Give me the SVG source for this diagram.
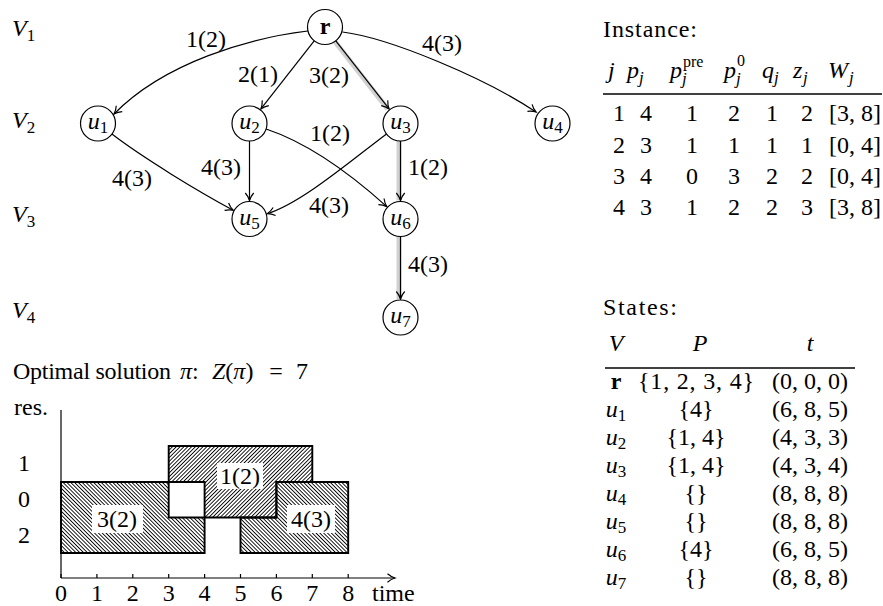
<svg xmlns="http://www.w3.org/2000/svg" width="883" height="606" viewBox="0 0 883 606" font-family="'Liberation Serif', 'Times New Roman', serif">
<style>
text{font-family:"Liberation Serif","Times New Roman",serif;font-size:24px;fill:#000}
.mi{font-style:italic}
.sub{font-size:17px}
.b{font-weight:bold}
.c{text-anchor:middle}
.edge{fill:none;stroke:#000;stroke-width:1.2;marker-end:url(#arr)}
.hl{fill:none;stroke:#d0d0d0;stroke-width:5}
.node circle{fill:#fff;stroke:#000;stroke-width:1.2}
.job{stroke:#000;stroke-width:1.9}
.lbg{fill:#fff}
.rule{stroke:#000;stroke-width:1.3}
.axis{stroke:#000;stroke-width:1.2;fill:none}
</style>
<defs>
<marker id="arr" viewBox="-9 -6 11 12" refX="0" refY="0" markerWidth="11" markerHeight="12" orient="auto" markerUnits="userSpaceOnUse">
<path d="M-7.5,-4.2 C-5,-2 -2,-0.6 0,0 C-2,0.6 -5,2 -7.5,4.2" fill="none" stroke="#000" stroke-width="1.2"/>
</marker>
<pattern id="nwl" patternUnits="userSpaceOnUse" width="2.7" height="2.7" patternTransform="rotate(-45)">
<line x1="0.45" y1="0" x2="0.45" y2="2.7" stroke="#000" stroke-width="0.9"/>
</pattern>
<pattern id="nel" patternUnits="userSpaceOnUse" width="2.7" height="2.7" patternTransform="rotate(45)">
<line x1="0.45" y1="0" x2="0.45" y2="2.7" stroke="#000" stroke-width="0.9"/>
</pattern>
</defs>
<rect width="883" height="606" fill="#fff"/>

<g id="levels">
<text x="12" y="36"><tspan class="mi">V</tspan><tspan class="sub" dy="5">1</tspan></text>
<text x="12" y="128"><tspan class="mi">V</tspan><tspan class="sub" dy="5">2</tspan></text>
<text x="12" y="222"><tspan class="mi">V</tspan><tspan class="sub" dy="5">3</tspan></text>
<text x="12" y="318"><tspan class="mi">V</tspan><tspan class="sub" dy="5">4</tspan></text>
</g>

<g id="connectors">
<path class="hl" d="M334.3,40.8 L387.6,108.9"/>
<path class="hl" d="M399,141 L399,200.5"/>
<path class="hl" d="M399,236.5 L399,299"/>
<path class="edge" d="M307.8,31 C250,38 165,62 114,114"/>
<path class="edge" d="M342.5,32 C390,38 485,78 536,112"/>
<path class="edge" d="M314.2,40.8 L260.9,108.9"/>
<path class="edge" d="M335.8,40.8 L389.1,108.9"/>
<path class="edge" d="M249.5,141 L249.5,200.5"/>
<path class="edge" d="M400.5,141 L400.5,200.5"/>
<path class="edge" d="M400.5,236.5 L400.5,299"/>
<path class="edge" d="M111.9,134.1 C143.7,158.4 198,191.2 233.2,210.2"/>
<path class="edge" d="M266.1,129 C313.5,144.8 357.1,179.8 386.8,206.6"/>
<path class="edge" d="M386.5,134 C350.5,161 300.7,203.7 267.2,213.7"/>
<text class="c" x="206" y="47">1(2)</text>
<text class="c" x="258" y="82">2(1)</text>
<text class="c" x="329" y="83">3(2)</text>
<text class="c" x="442" y="51">4(3)</text>
<text class="c" x="132" y="186">4(3)</text>
<text class="c" x="221" y="175">4(3)</text>
<text class="c" x="330" y="141">1(2)</text>
<text class="c" x="329" y="213">4(3)</text>
<text class="c" x="428" y="175">1(2)</text>
<text class="c" x="428" y="272">4(3)</text>
</g>

<g id="node-r" class="node"><circle cx="325" cy="27" r="17.5"/><text class="c b" x="325" y="34">r</text></g>
<g id="node-u1" class="node"><circle cx="98" cy="123.5" r="17.5"/><text class="c" x="98" y="129"><tspan class="mi">u</tspan><tspan class="sub" dy="4">1</tspan></text></g>
<g id="node-u2" class="node"><circle cx="249.5" cy="123.5" r="17.5"/><text class="c" x="249.5" y="129"><tspan class="mi">u</tspan><tspan class="sub" dy="4">2</tspan></text></g>
<g id="node-u3" class="node"><circle cx="400.5" cy="123.5" r="17.5"/><text class="c" x="400.5" y="129"><tspan class="mi">u</tspan><tspan class="sub" dy="4">3</tspan></text></g>
<g id="node-u4" class="node"><circle cx="552.5" cy="123.5" r="17.5"/><text class="c" x="552.5" y="129"><tspan class="mi">u</tspan><tspan class="sub" dy="4">4</tspan></text></g>
<g id="node-u5" class="node"><circle cx="249.5" cy="219" r="17.5"/><text class="c" x="249.5" y="224.5"><tspan class="mi">u</tspan><tspan class="sub" dy="4">5</tspan></text></g>
<g id="node-u6" class="node"><circle cx="400.5" cy="219" r="17.5"/><text class="c" x="400.5" y="224.5"><tspan class="mi">u</tspan><tspan class="sub" dy="4">6</tspan></text></g>
<g id="node-u7" class="node"><circle cx="400.5" cy="317.5" r="17.5"/><text class="c" x="400.5" y="323"><tspan class="mi">u</tspan><tspan class="sub" dy="4">7</tspan></text></g>

<g id="instance">
<text x="603" y="37" textLength="94" lengthAdjust="spacing">Instance:</text>
<text class="mi" x="608" y="78">j</text>
<text class="mi" x="627" y="78">p</text><text class="mi sub" x="639" y="83">j</text>
<text class="mi" x="670" y="78">p</text><text style="font-size:16px" x="683" y="67">pre</text><text class="mi sub" x="682" y="84">j</text>
<text class="mi" x="724" y="78">p</text><text style="font-size:16px" x="737" y="66">0</text><text class="mi sub" x="736" y="84">j</text>
<text class="mi" x="762" y="78">q</text><text class="mi sub" x="774" y="83">j</text>
<text class="mi" x="793" y="78">z</text><text class="mi sub" x="803" y="83">j</text>
<text class="mi" x="828" y="78">W</text><text class="mi sub" x="849" y="83">j</text>
<line class="rule" x1="603" y1="94" x2="882" y2="94"/>
<text class="c" x="619" y="121">1</text><text class="c" x="646" y="121">4</text><text class="c" x="692" y="121">1</text><text class="c" x="734" y="121">2</text><text class="c" x="772" y="121">1</text><text class="c" x="807" y="121">2</text><text class="c" x="855" y="121">[3, 8]</text>
<text class="c" x="619" y="152.5">2</text><text class="c" x="646" y="152.5">3</text><text class="c" x="692" y="152.5">1</text><text class="c" x="734" y="152.5">1</text><text class="c" x="772" y="152.5">1</text><text class="c" x="807" y="152.5">1</text><text class="c" x="855" y="152.5">[0, 4]</text>
<text class="c" x="619" y="184">3</text><text class="c" x="646" y="184">4</text><text class="c" x="692" y="184">0</text><text class="c" x="734" y="184">3</text><text class="c" x="772" y="184">2</text><text class="c" x="807" y="184">2</text><text class="c" x="855" y="184">[0, 4]</text>
<text class="c" x="619" y="215">4</text><text class="c" x="646" y="215">3</text><text class="c" x="692" y="215">1</text><text class="c" x="734" y="215">2</text><text class="c" x="772" y="215">2</text><text class="c" x="807" y="215">3</text><text class="c" x="855" y="215">[3, 8]</text>
</g>

<g id="states">
<text x="603" y="315" textLength="74" lengthAdjust="spacing">States:</text>
<text class="c mi" x="616" y="351">V</text>
<text class="c mi" x="700" y="351">P</text>
<text class="c mi" x="810" y="351">t</text>
<line class="rule" x1="605" y1="368" x2="855" y2="368"/>
<text class="c b" x="616" y="389">r</text><text class="c" x="696" y="389" textLength="116" lengthAdjust="spacing">{1, 2, 3, 4}</text><text class="c" x="810" y="389">(0, 0, 0)</text>
<text class="c" x="616" y="417"><tspan class="mi">u</tspan><tspan class="sub" dy="4">1</tspan></text><text class="c" x="696" y="417">{4}</text><text class="c" x="810" y="417">(6, 8, 5)</text>
<text class="c" x="616" y="445"><tspan class="mi">u</tspan><tspan class="sub" dy="4">2</tspan></text><text class="c" x="696" y="445">{1, 4}</text><text class="c" x="810" y="445">(4, 3, 3)</text>
<text class="c" x="616" y="473"><tspan class="mi">u</tspan><tspan class="sub" dy="4">3</tspan></text><text class="c" x="696" y="473">{1, 4}</text><text class="c" x="810" y="473">(4, 3, 4)</text>
<text class="c" x="616" y="501"><tspan class="mi">u</tspan><tspan class="sub" dy="4">4</tspan></text><text class="c" x="696" y="501">{}</text><text class="c" x="810" y="501">(8, 8, 8)</text>
<text class="c" x="616" y="529"><tspan class="mi">u</tspan><tspan class="sub" dy="4">5</tspan></text><text class="c" x="696" y="529">{}</text><text class="c" x="810" y="529">(8, 8, 8)</text>
<text class="c" x="616" y="557"><tspan class="mi">u</tspan><tspan class="sub" dy="4">6</tspan></text><text class="c" x="696" y="557">{4}</text><text class="c" x="810" y="557">(6, 8, 5)</text>
<text class="c" x="616" y="585"><tspan class="mi">u</tspan><tspan class="sub" dy="4">7</tspan></text><text class="c" x="696" y="585">{}</text><text class="c" x="810" y="585">(8, 8, 8)</text>
</g>

<g id="schedule">
<text x="13" y="379" textLength="158" lengthAdjust="spacing">Optimal solution</text>
<text x="180" y="379"><tspan class="mi">π</tspan>:</text>
<text x="212" y="379"><tspan class="mi">Z</tspan>(<tspan class="mi">π</tspan>)</text>
<text class="c" x="276" y="379">=</text>
<text x="296" y="379">7</text>
<text x="14" y="415">res.</text>
<text class="c" x="24" y="471">1</text>
<text class="c" x="24" y="507">0</text>
<text class="c" x="24" y="543">2</text>
<polygon class="job" fill="url(#nwl)" points="61,482 168.7,482 168.7,517.5 204.6,517.5 204.6,553 61,553"/>
<polygon class="job" fill="url(#nel)" points="168.7,446 312.3,446 312.3,482 276.4,482 276.4,517.5 204.6,517.5 204.6,482 168.7,482"/>
<polygon class="job" fill="url(#nwl)" points="276.4,482 348.2,482 348.2,553 240.5,553 240.5,517.5 276.4,517.5"/>
<rect class="lbg" x="92" y="505" width="51" height="28"/>
<text class="c" x="117" y="527">3(2)</text>
<rect class="lbg" x="217" y="463" width="46" height="26"/>
<text class="c" x="240" y="484">1(2)</text>
<rect class="lbg" x="287" y="505" width="48" height="28"/>
<text class="c" x="311" y="527">4(3)</text>
<line class="axis" x1="61" y1="410" x2="61" y2="578"/>
<path class="axis" d="M61,578 L395,578" marker-end="url(#arr)"/>
<path class="axis" d="M61,574 V578 M96.9,574 V578 M132.8,574 V578 M168.7,574 V578 M204.6,574 V578 M240.5,574 V578 M276.4,574 V578 M312.3,574 V578 M348.2,574 V578"/>
<text class="c" x="61" y="600.5">0</text>
<text class="c" x="96.9" y="600.5">1</text>
<text class="c" x="132.8" y="600.5">2</text>
<text class="c" x="168.7" y="600.5">3</text>
<text class="c" x="204.6" y="600.5">4</text>
<text class="c" x="240.5" y="600.5">5</text>
<text class="c" x="276.4" y="600.5">6</text>
<text class="c" x="312.3" y="600.5">7</text>
<text class="c" x="348.2" y="600.5">8</text>
<text x="372" y="600.5">time</text>
</g>
</svg>
